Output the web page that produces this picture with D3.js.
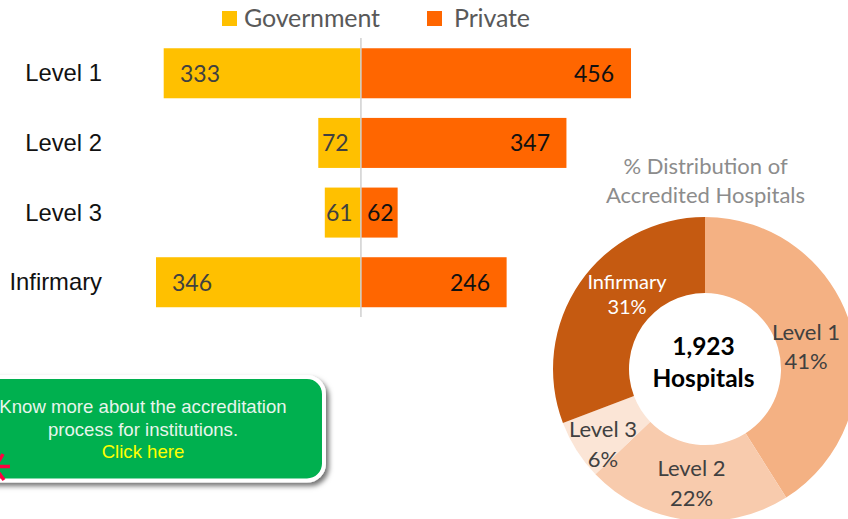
<!DOCTYPE html>
<html><head><meta charset="utf-8">
<script src="https://cdn.jsdelivr.net/npm/d3@7"></script>
<style>html,body{margin:0;padding:0;background:#fff;overflow:hidden}svg{display:block}
text{font-family:Lato,"Open Sans",sans-serif}</style></head><body>
<svg id="c" width="848" height="519"></svg>
<script>
const categories=["Level 1","Level 2","Level 3","Infirmary"];
const government=[333,72,61,346];
const privateVals=[456,347,62,246];
const donutLabels=["Level 1","Level 2","Level 3","Infirmary"];
const donutValues=[789,419,123,592];
const donutPct=["41%","22%","6%","31%"];
const donutColors=["#F4B183","#F8CBAD","#FBE5D6","#C55A11"];
const donutText=["#404040","#404040","#404040","#fff"];
const calloutLines=["Know more about the accreditation","process for institutions."];

const svg=d3.select("#c");
const defs=svg.append("defs");
const f=defs.append("filter").attr("id","sh").attr("x","-5%").attr("y","-10%").attr("width","115%").attr("height","130%");
f.append("feDropShadow").attr("dx",3).attr("dy",3.5).attr("stdDeviation",2.6).attr("flood-color","#000").attr("flood-opacity",.55);

const x=d3.scaleLinear().domain([-346,456]).range([156,631]);
const y=d3.scaleBand().domain(categories).range([38.5,317]).paddingInner(.282).paddingOuter(.14);
const zero=x(0);

svg.selectAll(".g").data(categories).join("rect").attr("fill","#FFC000")
 .attr("x",(d,i)=>x(-government[i])).attr("width",(d,i)=>zero-x(-government[i]))
 .attr("y",d=>y(d)).attr("height",y.bandwidth());
svg.selectAll(".p").data(categories).join("rect").attr("fill","#FF6600")
 .attr("x",zero).attr("width",(d,i)=>x(privateVals[i])-zero)
 .attr("y",d=>y(d)).attr("height",y.bandwidth());
svg.append("line").attr("x1",zero).attr("x2",zero).attr("y1",38).attr("y2",317).attr("stroke","#D0D0D0").attr("stroke-width",1.5);

// category labels
svg.selectAll(".cat").data(categories).join("text").attr("x",102).attr("text-anchor","end")
 .attr("y",d=>y(d)+y.bandwidth()/2+8).attr("font-size",23.8).attr("fill","#111")
 .style("font-family","'Liberation Sans',Arial,sans-serif").text(d=>d);

// value labels
const gx=[180,322,326,172];
svg.selectAll(".gv").data(government).join("text")
 .attr("x",(d,i)=>gx[i]).attr("y",(d,i)=>y(categories[i])+y.bandwidth()/2+8.5)
 .attr("font-size",23).attr("fill","#404040").text(d=>d);
const px=[614,550,367,490];
svg.selectAll(".pv").data(privateVals).join("text")
 .attr("x",(d,i)=>px[i]).attr("text-anchor",(d,i)=>i==2?"start":"end").attr("y",(d,i)=>y(categories[i])+y.bandwidth()/2+8.5)
 .attr("font-size",23).attr("fill","#111").text(d=>d);

// legend
svg.append("rect").attr("x",222).attr("y",11).attr("width",15).attr("height",15).attr("fill","#FFC000");
svg.append("rect").attr("x",427).attr("y",11).attr("width",15).attr("height",15).attr("fill","#FF6600");
svg.append("text").attr("x",244).attr("y",27).attr("font-size",25).attr("fill","#595959").attr("textLength",136).text("Government");
svg.append("text").attr("x",454).attr("y",27).attr("font-size",25).attr("fill","#595959").attr("textLength",76).text("Private");

// donut
const cx=705,cy=369;
const arc=d3.arc().innerRadius(76).outerRadius(152);
const pie=d3.pie().sort(null)(donutValues);
const dg=svg.append("g").attr("transform",`translate(${cx},${cy})`);
dg.selectAll("path").data(pie).join("path").attr("d",arc).attr("fill",(d,i)=>donutColors[i]);
const lp=[[806,340,369],[691.5,476,506],[603,437,467],[627,289,314]];
const lab=svg.append("g").attr("text-anchor","middle");
donutLabels.forEach((t,i)=>{
 const fs=i==3?20:22;
 lab.append("text").attr("x",lp[i][0]).attr("y",lp[i][1]).attr("font-size",fs).attr("fill",donutText[i]).text(t);
 lab.append("text").attr("x",lp[i][0]).attr("y",lp[i][2]).attr("font-size",fs).attr("fill",donutText[i]).text(donutPct[i]);
});
svg.append("text").attr("x",705.5).attr("y",174).attr("text-anchor","middle").attr("font-size",22).attr("fill","#8C8C8C").text("% Distribution of");
svg.append("text").attr("x",705.5).attr("y",203).attr("text-anchor","middle").attr("font-size",22).attr("fill","#8C8C8C").text("Accredited Hospitals");
svg.append("text").attr("x",703.5).attr("y",355).attr("text-anchor","middle").attr("font-size",24.5).attr("font-weight",700).attr("fill","#000").text("1,923");
svg.append("text").attr("x",703.5).attr("y",387).attr("text-anchor","middle").attr("font-size",24.5).attr("font-weight",700).attr("fill","#000").text("Hospitals");

// callout
svg.append("rect").attr("x",-30).attr("y",377).attr("width",354).attr("height",103.5).attr("rx",17)
 .attr("fill","#00B050").attr("stroke","#fff").attr("stroke-width",4).attr("filter","url(#sh)");
const sans="'Liberation Sans',Arial,sans-serif";
calloutLines.forEach((t,i)=>svg.append("text").attr("x",143).attr("y",413+i*22.5).attr("text-anchor","middle")
 .attr("font-size",18.6).attr("fill","#E8F5EC").style("font-family",sans).text(t));
svg.append("text").attr("x",143).attr("y",457.5).attr("text-anchor","middle").attr("font-size",18.6).attr("fill","#FFFF00").style("font-family",sans).text("Click here");

// red burst at the edge
[[0,466.5,10,466.5],[-1,461,3,454],[-1,473,4,480]].forEach(s=>svg.append("line")
 .attr("x1",s[0]).attr("y1",s[1]).attr("x2",s[2]).attr("y2",s[3]).attr("stroke","#FF0040").attr("stroke-width",3.5));
</script></body></html>
